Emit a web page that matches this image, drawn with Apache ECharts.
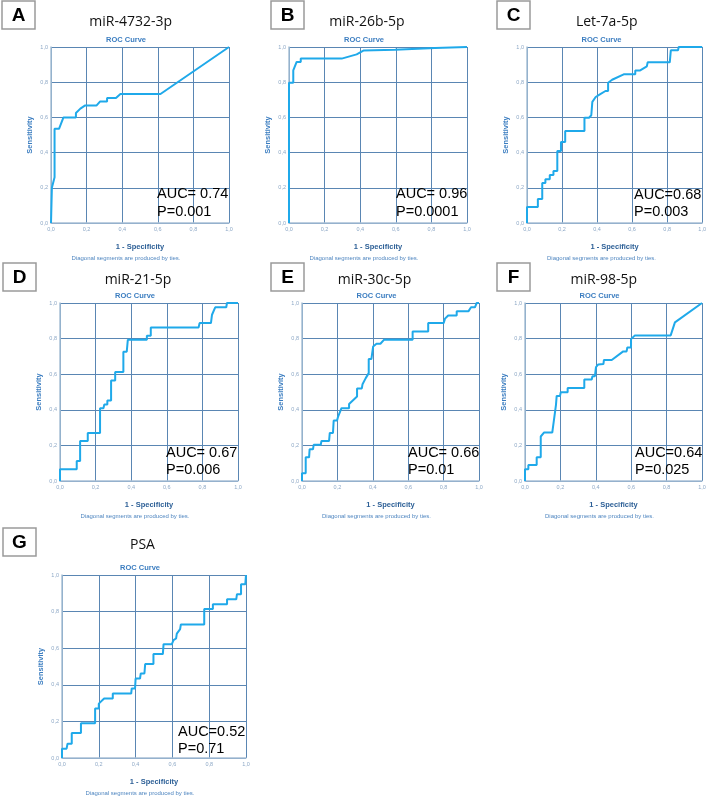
<!DOCTYPE html>
<html>
<head>
<meta charset="utf-8">
<script src="https://cdn.jsdelivr.net/npm/echarts@6/dist/echarts.min.js"></script>
<style>
html,body{margin:0;padding:0;background:#fff;}
#chart{width:709px;height:798px;}
</style>
</head>
<body>
<div id="chart"></div>
<script>
// ---------- DATA ----------
const panelLetters = ['A','B','C','D','E','F','G'];
const panelTitles = ['miR-4732-3p','miR-26b-5p','Let-7a-5p','miR-21-5p','miR-30c-5p','miR-98-5p','PSA'];
const aucTexts = ['AUC= 0.74','AUC= 0.96','AUC=0.68','AUC= 0.67','AUC= 0.66','AUC=0.64','AUC=0.52'];
const pTexts = ['P=0.001','P=0.0001','P=0.003','P=0.006','P=0.01','P=0.025','P=0.71'];
const tickLabels = ['0,0','0,2','0,4','0,6','0,8','1,0'];

const fprA  = [0,0.005,0.02,0.02,0.045,0.07,0.14,0.14,0.165,0.19,0.255,0.275,0.315,0.315,0.365,0.39,0.615,1];
const sensA = [0,0.2,0.26,0.535,0.535,0.6,0.6,0.625,0.65,0.667,0.667,0.69,0.69,0.71,0.71,0.733,0.733,1];

const fprB  = [0,0,0.024,0.024,0.043,0.066,0.066,0.296,0.38,0.418,0.595,0.82,1];
const sensB = [0,0.797,0.797,0.867,0.915,0.915,0.934,0.934,0.958,0.98,0.985,0.995,1];

const fprC  = [0,0,0.062,0.062,0.087,0.087,0.105,0.105,0.13,0.13,0.151,0.151,0.173,0.173,0.194,0.194,0.218,0.218,0.328,0.328,0.354,0.367,0.373,0.392,0.416,0.448,0.463,0.463,0.486,0.552,0.618,0.618,0.646,0.684,0.689,0.815,0.821,0.862,0.866,1];
const sensC = [0,0.091,0.091,0.136,0.136,0.227,0.227,0.248,0.248,0.273,0.273,0.295,0.295,0.409,0.409,0.46,0.46,0.523,0.523,0.598,0.598,0.612,0.688,0.716,0.731,0.75,0.75,0.797,0.814,0.845,0.845,0.867,0.867,0.89,0.913,0.913,0.981,0.981,1,1];

const fprD  = [0,0,0.094,0.094,0.113,0.113,0.156,0.156,0.225,0.225,0.244,0.249,0.266,0.266,0.287,0.287,0.31,0.31,0.356,0.356,0.375,0.381,0.488,0.488,0.51,0.51,0.779,0.784,0.848,0.854,0.872,0.934,0.938,1];
const sensD = [0,0.066,0.066,0.113,0.113,0.225,0.225,0.27,0.27,0.409,0.409,0.43,0.43,0.452,0.452,0.565,0.565,0.612,0.612,0.726,0.726,0.793,0.793,0.816,0.816,0.863,0.863,0.887,0.887,0.934,0.976,0.976,1,1];

const fprE  = [0,0,0.021,0.021,0.04,0.043,0.062,0.066,0.106,0.110,0.153,0.157,0.175,0.179,0.198,0.204,0.223,0.266,0.266,0.311,0.311,0.338,0.342,0.360,0.377,0.377,0.392,0.402,0.421,0.443,0.464,0.625,0.625,0.713,0.713,0.8,0.808,0.826,0.874,0.874,0.94,0.955,0.977,0.987,1];
const sensE = [0,0.043,0.043,0.133,0.133,0.178,0.178,0.203,0.203,0.225,0.225,0.27,0.27,0.34,0.34,0.362,0.409,0.409,0.433,0.475,0.52,0.52,0.544,0.578,0.606,0.685,0.685,0.756,0.771,0.771,0.794,0.794,0.84,0.84,0.887,0.887,0.912,0.93,0.93,0.953,0.953,0.976,0.976,1,1];

const fprF  = [0,0,0.019,0.019,0.066,0.066,0.089,0.089,0.107,0.154,0.175,0.179,0.198,0.202,0.241,0.241,0.335,0.335,0.377,0.381,0.395,0.401,0.414,0.443,0.446,0.49,0.555,0.574,0.578,0.599,0.599,0.621,0.823,0.847,1];
const sensF = [0,0.066,0.066,0.09,0.09,0.133,0.133,0.25,0.272,0.272,0.428,0.478,0.478,0.499,0.499,0.522,0.522,0.57,0.57,0.589,0.589,0.64,0.655,0.657,0.68,0.68,0.728,0.728,0.75,0.75,0.797,0.818,0.818,0.891,1];

const fprG  = [0,0,0.025,0.03,0.053,0.053,0.103,0.103,0.18,0.18,0.2,0.2,0.229,0.276,0.276,0.376,0.379,0.397,0.4,0.424,0.428,0.448,0.452,0.497,0.497,0.548,0.552,0.597,0.606,0.62,0.624,0.642,0.646,0.773,0.773,0.82,0.82,0.897,0.897,0.947,0.951,0.973,0.973,0.996,1];
const sensG = [0,0.051,0.051,0.078,0.078,0.137,0.137,0.19,0.19,0.27,0.27,0.297,0.325,0.325,0.352,0.352,0.38,0.38,0.434,0.434,0.462,0.462,0.513,0.513,0.568,0.568,0.622,0.622,0.644,0.653,0.68,0.704,0.73,0.73,0.814,0.814,0.84,0.84,0.867,0.867,0.895,0.895,0.949,0.949,1];

const fprAll = [fprA,fprB,fprC,fprD,fprE,fprF,fprG];
const sensAll = [sensA,sensB,sensC,sensD,sensE,sensF,sensG];

// ---------- LAYOUT ----------
const grids = [
  {left:51, top:47, width:178, height:176},
  {left:289, top:47, width:178, height:176},
  {left:527, top:47, width:177, height:176},
  {left:60, top:303, width:178, height:178},
  {left:302, top:303, width:177, height:178},
  {left:525, top:303, width:177, height:178},
  {left:62, top:575, width:184, height:183}
];
const titlePos = [[130.7,22],[367,22],[606.7,22],[138,280],[374.5,280],[603.8,280],[142.5,545]];
const boxPos = [[2,1],[271,1],[497,1],[3,263],[271,263],[497,263],[3,528]];
const aucPos = [[157,194],[396,194],[634,194.5],[166,452.5],[408,452.5],[635,452.5],[178,731.5]];

const curveColor = '#1fa9ea';
const gridLineColor = '#5a86b3';
const borderColor = '#a9c0d6';
const sansFont = '"Liberation Sans", Arial, sans-serif';

const chart = echarts.init(document.getElementById('chart'), null, {renderer:'canvas'});

const xAxes = [], yAxes = [], series = [], graphics = [];
grids.forEach((g, i) => {
  xAxes.push({
    gridIndex:i, type:'value', min:0, max:1, interval:0.2,
    axisLine:{show:true, lineStyle:{color:borderColor, width:1.5}},
    axisTick:{show:false},
    axisLabel:{color:'#8da8c6', fontSize:5.5, fontFamily:sansFont, margin:3,
      formatter:(v)=>tickLabels[Math.round(v*5)]},
    splitLine:{show:true, lineStyle:{color:gridLineColor, width:1}},
    name:'1 - Specificity', nameLocation:'middle', nameGap:20,
    nameTextStyle:{color:'#2c5f96', fontSize:7.5, fontWeight:'bold', fontFamily:sansFont}
  });
  yAxes.push({
    gridIndex:i, type:'value', min:0, max:1, interval:0.2,
    axisLine:{show:true, lineStyle:{color:borderColor, width:1.5}},
    axisTick:{show:false},
    axisLabel:{color:'#8da8c6', fontSize:5.5, fontFamily:sansFont, margin:3,
      formatter:(v)=>tickLabels[Math.round(v*5)]},
    splitLine:{show:true, lineStyle:{color:gridLineColor, width:1}},
    name:'Sensitivity', nameLocation:'middle', nameGap:17,
    nameTextStyle:{color:'#3b7dc0', fontSize:7.5, fontWeight:'bold', fontFamily:sansFont}
  });
  const data = fprAll[i].map((x, k) => [x, sensAll[i][k]]);
  series.push({
    type:'line', xAxisIndex:i, yAxisIndex:i, data:data, symbol:'none',
    lineStyle:{color:curveColor, width:2}, animation:false, silent:true, z:5
  });
  const cx = g.left + g.width/2;
  // ROC Curve
  graphics.push({type:'text', left:cx-14, top:g.top-10, style:{text:'ROC Curve', x:0, y:0,
    fill:'#3b7dc0', font:'bold 7.5px "Liberation Sans", Arial, sans-serif', textAlign:'center'}});
  graphics.push({type:'text', x:cx-14, y:g.top-7, style:{text:'ROC Curve',
    fill:'#3b7dc0', font:'bold 7.5px "Liberation Sans", Arial, sans-serif', textAlign:'center', textVerticalAlign:'middle'}});
  // Diagonal note
  graphics.push({type:'text', x:cx-14, y:g.top+g.height+35, style:{text:'Diagonal segments are produced by ties.',
    fill:'#4f86c0', font:'6px "Liberation Sans", Arial, sans-serif', textAlign:'center', textVerticalAlign:'middle'}});
  // Panel title
  graphics.push({type:'text', x:titlePos[i][0], y:titlePos[i][1], style:{text:panelTitles[i],
    fill:'#111', font:'14px "Open Sans", "Noto Sans", sans-serif', textAlign:'center', textVerticalAlign:'middle'}});
  // Letter box
  graphics.push({type:'rect', shape:{x:boxPos[i][0], y:boxPos[i][1], width:33, height:28},
    style:{fill:'#fff', stroke:'#9a9a9a', lineWidth:1.5}});
  graphics.push({type:'text', x:boxPos[i][0]+16.5, y:boxPos[i][1]+14.5, style:{text:panelLetters[i],
    fill:'#000', font:'bold 19px "Liberation Sans", Arial, sans-serif', textAlign:'center', textVerticalAlign:'middle'}});
  // AUC and P
  graphics.push({type:'text', x:aucPos[i][0], y:aucPos[i][1], z:10, style:{text:aucTexts[i],
    fill:'#000', font:'14.5px "Liberation Sans", Arial, sans-serif', textAlign:'left', textVerticalAlign:'middle'}});
  graphics.push({type:'text', x:aucPos[i][0], y:aucPos[i][1]+17.5, z:10, style:{text:pTexts[i],
    fill:'#000', font:'14.5px "Liberation Sans", Arial, sans-serif', textAlign:'left', textVerticalAlign:'middle'}});
});
// remove the duplicated first-style ROC labels (keep only centered ones)
const graphicsClean = graphics.filter(g => !(g.left !== undefined));

chart.setOption({
  animation:false,
  backgroundColor:'#fff',
  grid: grids.map(g => Object.assign({containLabel:false, show:false}, g)),
  xAxis: xAxes,
  yAxis: yAxes,
  series: series,
  graphic: graphicsClean
});
</script>
</body>
</html>
